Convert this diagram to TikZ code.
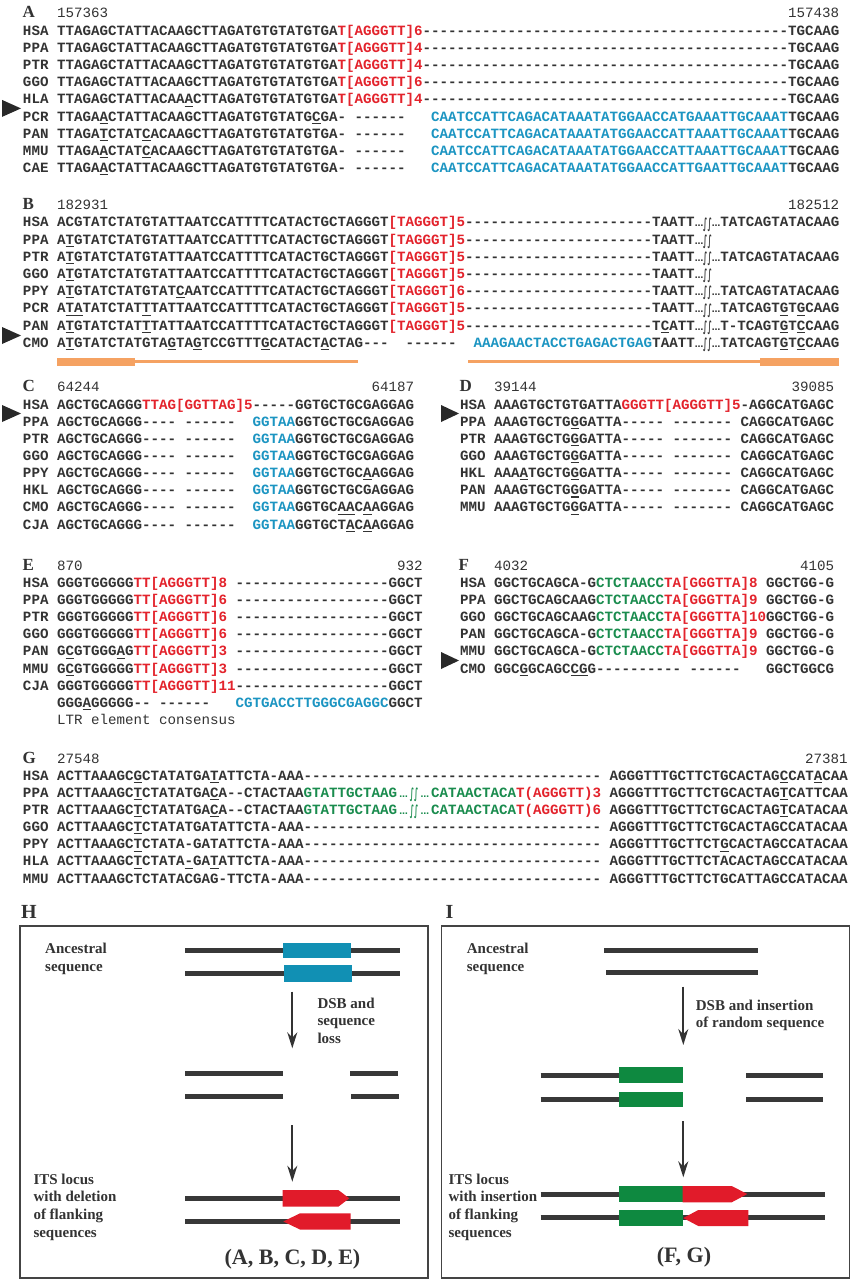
\documentclass[tikz,border=0pt]{standalone}
\usepackage{fontspec}
\usepackage{graphicx}
\usetikzlibrary{arrows.meta}
\setmainfont{Liberation Serif}
\newfontfamily\seqf{Liberation Mono}
\newfontfamily\brkf{DejaVu Sans}
\frenchspacing
\definecolor{ink}{HTML}{333333}
\definecolor{strandc}{HTML}{383838}
\definecolor{framec}{HTML}{444444}
\definecolor{sred}{HTML}{E3232C}
\definecolor{sblue}{HTML}{1C95C2}
\definecolor{sgreen}{HTML}{1A8C4E}
\definecolor{orng}{HTML}{F5A262}
\definecolor{boxblue}{HTML}{1190B4}
\definecolor{boxgreen}{HTML}{0E8940}
\definecolor{boxred}{HTML}{E11B2A}
\newlength\cw \setlength\cw{8.5014pt}
\newcommand\Rd[1]{\textcolor{sred}{#1}}
\newcommand\Bu[1]{\textcolor{sblue}{#1}}
\newcommand\Gn[1]{\textcolor{sgreen}{#1}}
\newcommand\Un[1]{\setbox0\hbox{#1}\rlap{\rule[-2.8pt]{\wd0}{1.1pt}}\box0}
\newcommand\El[1][1]{\makebox[#1\cw][c]{\brkf\fontsize{8.5}{8.5}\selectfont …}}
\newcommand\Ig{\makebox[\cw][c]{\raisebox{-1.2pt}{\brkf\fontsize{14}{14}\selectfont\scalebox{0.5}[1]{∫∫}}}}
\ExplSyntaxOn
\NewDocumentCommand\Dr{m}{\prg_replicate:nn{#1}{-\kern0pt}}
\ExplSyntaxOff
\newcommand\SeqRow[4]{\node[seq] (#1) at (#2,#3) {#4};}
\tikzset{
 seq/.style={anchor=base west, inner sep=0pt, outer sep=0pt, text=ink, font=\seqf\bfseries\fontsize{14.17}{16}\selectfont},
 num/.style={inner sep=0pt, outer sep=0pt, text=ink, font=\seqf\fontsize{14.17}{16}\selectfont},
 plet/.style={anchor=base west, inner sep=0pt, text=ink, font=\bfseries\fontsize{17}{17}\selectfont},
 blet/.style={anchor=base west, inner sep=0pt, text=ink, font=\bfseries\fontsize{20}{20}\selectfont},
 lab/.style={anchor=base west, inner sep=0pt, text=ink, font=\bfseries\fontsize{15}{18}\selectfont},
 bigcap/.style={anchor=base, inner sep=0pt, text=ink, font=\bfseries\fontsize{22}{24}\selectfont},
 strand/.style={line width=5pt, draw=strandc},
 flowarrow/.style={line width=1.7pt, draw=ink, -{Stealth[length=16pt,width=10pt]}},
 boxframe/.style={draw=framec, line width=1.4pt},
 tri/.style={fill=ink!80!black}
}
\begin{document}
\begin{tikzpicture}[x=1pt,y=-1pt]
\useasboundingbox (0,0) rectangle (852,1280);
\fill[white] (0,0) rectangle (852,1280);
% ---------- A ----------
\node[plet] (A) at (22.5,17.3) {A};
\node[num,anchor=base west] (aL) at ({23+4*8.5014},17.3) {157363};
\node[num,anchor=base east] (aR) at ({23+96*8.5014},17.3) {157438};
\SeqRow{a1}{23}{35}{HSA~TTAGAGCTATTACAAGCTTAGATGTGTATGTGA\Rd{T[AGGGTT]6}\Dr{43}TGCAAG}
\SeqRow{a2}{23}{52.2}{PPA~TTAGAGCTATTACAAGCTTAGATGTGTATGTGA\Rd{T[AGGGTT]4}\Dr{43}TGCAAG}
\SeqRow{a3}{23}{69.4}{PTR~TTAGAGCTATTACAAGCTTAGATGTGTATGTGA\Rd{T[AGGGTT]4}\Dr{43}TGCAAG}
\SeqRow{a4}{23}{86.6}{GGO~TTAGAGCTATTACAAGCTTAGATGTGTATGTGA\Rd{T[AGGGTT]6}\Dr{43}TGCAAG}
\SeqRow{a5}{23}{103.8}{HLA~TTAGAGCTATTACAA\Un{A}CTTAGATGTGTATGTGA\Rd{T[AGGGTT]4}\Dr{43}TGCAAG}
\SeqRow{a6}{23}{121}{PCR~TTAGA\Un{A}CTATTACAAGCTTAGATGTGTATG\Un{C}GA-~\Dr{6}~~~\Bu{CAATCCATTCAGACATAAATATGGAACCATGAAATTGCAAAT}TGCAAG}
\SeqRow{a7}{23}{138.2}{PAN~TTAGA\Un{T}CTAT\Un{C}ACAAGCTTAGATGTGTATGTGA-~\Dr{6}~~~\Bu{CAATCCATTCAGACATAAATATGGAACCATTAAATTGCAAAT}TGCAAG}
\SeqRow{a8}{23}{155.4}{MMU~TTAGA\Un{A}CTAT\Un{C}ACAAGCTTAGATGTGTATGTGA-~\Dr{6}~~~\Bu{CAATCCATTCAGACATAAATATGGAACCATTAAATTGCAAAT}TGCAAG}
\SeqRow{a9}{23}{172.6}{CAE~TTAGA\Un{A}CTATTACAAGCTTAGATGTGTATGTGA-~\Dr{6}~~~\Bu{CAATCCATTCAGACATAAATATGGAACCATTGAATTGCAAAT}TGCAAG}
\fill[tri] (2,99.9) -- (21,108.4) -- (2,116.9) -- cycle;
% ---------- B ----------
\node[plet] (B) at (22.5,209) {B};
\node[num,anchor=base west] (bL) at ({23+4*8.5014},209) {182931};
\node[num,anchor=base east] (bR) at ({23+96*8.5014},209) {182512};
\SeqRow{b1}{23}{226.8}{HSA~ACGTATCTATGTATTAATCCATTTTCATACTGCTAGGGT\Rd{[TAGGGT]5}\Dr{22}TAATT\El\Ig\El TATCAGTATACAAG}
\SeqRow{b2}{23}{244}{PPA~A\Un{T}GTATCTATGTATTAATCCATTTTCATACTGCTAGGGT\Rd{[TAGGGT]5}\Dr{22}TAATT\El\Ig}
\SeqRow{b3}{23}{261.2}{PTR~A\Un{T}GTATCTATGTATTAATCCATTTTCATACTGCTAGGGT\Rd{[TAGGGT]5}\Dr{22}TAATT\El\Ig\El TATCAGTATACAAG}
\SeqRow{b4}{23}{278.4}{GGO~A\Un{T}GTATCTATGTATTAATCCATTTTCATACTGCTAGGGT\Rd{[TAGGGT]5}\Dr{22}TAATT\El\Ig}
\SeqRow{b5}{23}{295.6}{PPY~A\Un{T}GTATCTATGTAT\Un{C}AATCCATTTTCATACTGCTAGGGT\Rd{[TAGGGT]6}\Dr{22}TAATT\El\Ig\El TATCAGTATACAAG}
\SeqRow{b6}{23}{312.8}{PCR~A\Un{TA}TATCTAT\Un{T}TATTAATCCATTTTCATACTGCTAGGGT\Rd{[TAGGGT]5}\Dr{22}TAATT\El\Ig\El TATCAGT\Un{G}T\Un{G}CAAG}
\SeqRow{b7}{23}{330}{PAN~A\Un{T}GTATCTAT\Un{T}TATTAATCCATTTTCATACTGCTAGGGT\Rd{[TAGGGT]5}\Dr{22}T\Un{C}ATT\El\Ig\El T-TCAGT\Un{G}T\Un{C}CAAG}
\SeqRow{b8}{23}{347.2}{CMO~A\Un{T}GTATCTATGTA\Un{G}TA\Un{G}TCCGTTT\Un{G}CATACT\Un{A}CTAG\Dr{3}~~\Dr{6}~~\Bu{AAAGAACTACCTGAGACTGAG}TAATT\El\Ig\El TATCAGT\Un{G}T\Un{C}CAAG}
\fill[tri] (2,327) -- (21,335.5) -- (2,344) -- cycle;
\fill[orng] (57,357.7) rectangle (135,365.7);
\fill[orng] (135,360.2) rectangle (358,363.2);
\fill[orng] (468,360.2) rectangle (760,363.2);
\fill[orng] (760,357.7) rectangle (839,365.7);
% ---------- C ----------
\node[plet] (C) at (22.5,391.7) {C};
\node[num,anchor=base west] (cL) at ({23+4*8.5014},391.7) {64244};
\node[num,anchor=base east] (cR) at ({23+46*8.5014},391.7) {64187};
\SeqRow{c1}{23}{409}{HSA~AGCTGCAGGG\Rd{TTAG[GGTTAG]5}\Dr{5}GGTGCTGCGAGGAG}
\SeqRow{c2}{23}{426.15}{PPA~AGCTGCAGGG\Dr{4}~\Dr{6}~~\Bu{GGTAA}GGTGCTGCGAGGAG}
\SeqRow{c3}{23}{443.3}{PTR~AGCTGCAGGG\Dr{4}~\Dr{6}~~\Bu{GGTAA}GGTGCTGCGAGGAG}
\SeqRow{c4}{23}{460.45}{GGO~AGCTGCAGGG\Dr{4}~\Dr{6}~~\Bu{GGTAA}GGTGCTGCGAGGAG}
\SeqRow{c5}{23}{477.6}{PPY~AGCTGCAGGG\Dr{4}~\Dr{6}~~\Bu{GGTAA}GGTGCTGC\Un{A}AGGAG}
\SeqRow{c6}{23}{494.75}{HKL~AGCTGCAGGG\Dr{4}~\Dr{6}~~\Bu{GGTAA}GGTGCTGCGAGGAG}
\SeqRow{c7}{23}{511.9}{CMO~AGCTGCAGGG\Dr{4}~\Dr{6}~~\Bu{GGTAA}GGTGC\Un{AA}C\Un{A}AGGAG}
\SeqRow{c8}{23}{529.05}{CJA~AGCTGCAGGG\Dr{4}~\Dr{6}~~\Bu{GGTAA}GGTGCT\Un{A}C\Un{A}AGGAG}
\fill[tri] (2,405) -- (21,413.5) -- (2,422) -- cycle;
% ---------- D ----------
\node[plet] (D) at (459.5,391.7) {D};
\node[num,anchor=base west] (dL) at ({460+4*8.5014},391.7) {39144};
\node[num,anchor=base east] (dR) at ({460+44*8.5014},391.7) {39085};
\SeqRow{d1}{460}{409}{HSA~AAAGTGCTGTGATTA\Rd{GGGTT[AGGGTT]5}-AGGCATGAGC}
\SeqRow{d2}{460}{426.15}{PPA~AAAGTGCTG\Un{G}GATTA\Dr{5}~\Dr{7}~CAGGCATGAGC}
\SeqRow{d3}{460}{443.3}{PTR~AAAGTGCTG\Un{G}GATTA\Dr{5}~\Dr{7}~CAGGCATGAGC}
\SeqRow{d4}{460}{460.45}{GGO~AAAGTGCTG\Un{G}GATTA\Dr{5}~\Dr{7}~CAGGCATGAGC}
\SeqRow{d5}{460}{477.6}{HKL~AAA\Un{A}TGCTG\Un{G}GATTA\Dr{5}~\Dr{7}~CAGGCATGAGC}
\SeqRow{d6}{460}{494.75}{PAN~AAAGTGCTG\Un{G}GATTA\Dr{5}~\Dr{7}~CAGGCATGAGC}
\SeqRow{d7}{460}{511.9}{MMU~AAAGTGCTG\Un{G}GATTA\Dr{5}~\Dr{7}~CAGGCATGAGC}
\fill[tri] (441,405) -- (459,413.5) -- (441,422) -- cycle;
% ---------- E ----------
\node[plet] (E) at (22.5,570) {E};
\node[num,anchor=base west] (eL) at ({23+4*8.5014},570) {870};
\node[num,anchor=base east] (eR) at ({23+47*8.5014},570) {932};
\SeqRow{e1}{23}{587.3}{HSA~GGGTGGGGG\Rd{TT[AGGGTT]8}~\Dr{18}GGCT}
\SeqRow{e2}{23}{604.45}{PPA~GGGTGGGGG\Rd{TT[AGGGTT]6}~\Dr{18}GGCT}
\SeqRow{e3}{23}{621.6}{PTR~GGGTGGGGG\Rd{TT[AGGGTT]6}~\Dr{18}GGCT}
\SeqRow{e4}{23}{638.75}{GGO~GGGTGGGGG\Rd{TT[AGGGTT]6}~\Dr{18}GGCT}
\SeqRow{e5}{23}{655.9}{PAN~G\Un{C}GTGGG\Un{A}G\Rd{TT[AGGGTT]3}~\Dr{18}GGCT}
\SeqRow{e6}{23}{673.05}{MMU~G\Un{C}GTGGGGG\Rd{TT[AGGGTT]3}~\Dr{18}GGCT}
\SeqRow{e7}{23}{690.2}{CJA~GGGTGGGGG\Rd{TT[AGGGTT]11}\Dr{18}GGCT}
\SeqRow{e8}{23}{707.35}{~~~~GGG\Un{A}GGGGG\Dr{2}~\Dr{6}~~~\Bu{CGTGACCTTGGGCGAGGC}GGCT}
\node[num,anchor=base west] (e9) at ({23+4*8.5014},724.5) {LTR~element~consensus};
% ---------- F ----------
\node[plet] (F) at (458.5,570) {F};
\node[num,anchor=base west] (fL) at ({460+4*8.5014},570) {4032};
\node[num,anchor=base east] (fR) at ({460+44*8.5014},570) {4105};
\SeqRow{f1}{460}{587.3}{HSA~GGCTGCAGCA-G\Gn{CTCTAACC}\Rd{TA[GGGTTA]8}~GGCTGG-G}
\SeqRow{f2}{460}{604.45}{PPA~GGCTGCAGCAAG\Gn{CTCTAACC}\Rd{TA[GGGTTA]9}~GGCTGG-G}
\SeqRow{f3}{460}{621.6}{GGO~GGCTGCAGCAAG\Gn{CTCTAACC}\Rd{TA[GGGTTA]10}GGCTGG-G}
\SeqRow{f4}{460}{638.75}{PAN~GGCTGCAGCA-G\Gn{CTCTAACC}\Rd{TA[GGGTTA]9}~GGCTGG-G}
\SeqRow{f5}{460}{655.9}{MMU~GGCTGCAGCA-G\Gn{CTCTAACC}\Rd{TA[GGGTTA]9}~GGCTGG-G}
\SeqRow{f6}{460}{673.05}{CMO~GGC\Un{G}GCAGC\Un{CG}G\Dr{10}~\Dr{6}~~~GGCTGGCG}
\fill[tri] (441,652) -- (459,660.5) -- (441,669) -- cycle;
% ---------- G ----------
\node[plet] (G) at (22.5,763) {G};
\node[num,anchor=base west] (gL) at ({23+4*8.5014},763) {27548};
\node[num,anchor=base east] (gR) at ({23+97*8.5014},763) {27381};
\SeqRow{g1}{23}{780.2}{HSA~ACTTAAAGC\Un{G}CTATATGA\Un{T}ATTCTA-AAA\Dr{35}~AGGGTTTGCTTCTGCACTAG\Un{C}CAT\Un{A}CAA}
\SeqRow{g2}{23}{797.35}{PPA~ACTTAAAGC\Un{T}CTATATGA\Un{C}A\Dr{2}CTACTAA\Gn{GTATTGCTAAG\El[1.5]\Ig\El[1.5]CATAACTACA}\Rd{T(AGGGTT)3}~AGGGTTTGCTTCTGCACTAG\Un{T}CATTCAA}
\SeqRow{g3}{23}{814.5}{PTR~ACTTAAAGC\Un{T}CTATATGA\Un{C}A\Dr{2}CTACTAA\Gn{GTATTGCTAAG\El[1.5]\Ig\El[1.5]CATAACTACA}\Rd{T(AGGGTT)6}~AGGGTTTGCTTCTGCACTAG\Un{T}CATACAA}
\SeqRow{g4}{23}{831.65}{GGO~ACTTAAAGC\Un{T}CTATATGATATTCTA-AAA\Dr{35}~AGGGTTTGCTTCTGCACTAGCCATACAA}
\SeqRow{g5}{23}{848.8}{PPY~ACTTAAAGC\Un{T}CTATA-GATATTCTA-AAA\Dr{35}~AGGGTTTGCTTCT\Un{G}CACTAGCCATACAA}
\SeqRow{g6}{23}{865.95}{HLA~ACTTAAAGC\Un{T}CTATA\Un{-}GA\Un{T}ATTCTA-AAA\Dr{35}~AGGGTTTGCTTCTACACTAGCCATACAA}
\SeqRow{g7}{23}{883.1}{MMU~ACTTAAAGCTCTATACGAG-TTCTA-AAA\Dr{35}~AGGGTTTGCTTCTGCATTAGCCATACAA}
% ---------- H ----------
\node[blet] (H) at (21,918.5) {H};
\draw[boxframe] (20,926) rectangle (428,1278);
\node[lab] (h1) at (45,953) {Ancestral};
\node[lab] (h2) at (45,971) {sequence};
\draw[strand] (185,950) -- (400,950);
\draw[strand] (185,973.3) -- (400,973.3);
\fill[boxblue] (283,942.7) rectangle (351,958.3);
\fill[boxblue] (284,965) rectangle (352,981.5);
\coordinate (hA1) at (292.3,991.7);
\coordinate (hA2) at (292.3,1048.3);
\draw[flowarrow] (hA1) -- (hA2);
\node[lab] (h3) at (317.3,1008) {DSB and};
\node[lab] (h4) at (317.3,1025.6) {sequence};
\node[lab] (h5) at (317.3,1043.2) {loss};
\draw[strand] (185,1073.3) -- (283.3,1073.3);
\draw[strand] (350,1073.3) -- (398.3,1073.3);
\draw[strand] (185,1096.7) -- (283.3,1096.7);
\draw[strand] (351,1096.7) -- (399.3,1096.7);
\coordinate (hB1) at (292.3,1125);
\coordinate (hB2) at (292.3,1181.7);
\draw[flowarrow] (hB1) -- (hB2);
\draw[strand] (185,1198.3) -- (400,1198.3);
\draw[strand] (185,1221.7) -- (400,1221.7);
\fill[boxred] (282.7,1190) -- (338.3,1190) -- (349.3,1198.3) -- (338.3,1206.7) -- (282.7,1206.7) -- cycle;
\fill[boxred] (350.7,1213.3) -- (300,1213.3) -- (283.3,1221.5) -- (300,1229.5) -- (350.7,1229.5) -- cycle;
\node[lab] (h6) at (33.3,1184) {ITS locus};
\node[lab] (h7) at (33.3,1201.7) {with deletion};
\node[lab] (h8) at (33.3,1219.4) {of flanking};
\node[lab] (h9) at (33.3,1237.1) {sequences};
\node[bigcap] (h10) at (292.5,1264) {(A, B, C, D, E)};
% ---------- I ----------
\node[blet] (I) at (445.5,918.5) {I};
\draw[boxframe] (441.7,926) rectangle (849.3,1278);
\node[lab] (i1) at (466.7,953) {Ancestral};
\node[lab] (i2) at (466.7,971) {sequence};
\draw[strand] (604,950) -- (757.7,950);
\draw[strand] (606,972.7) -- (757.7,972.7);
\coordinate (iA1) at (683.3,986.7);
\coordinate (iA2) at (683.3,1045);
\draw[flowarrow] (iA1) -- (iA2);
\node[lab] (i3) at (695.7,1010) {DSB and insertion};
\node[lab] (i4) at (695.7,1027.7) {of random sequence};
\draw[strand] (540.7,1075) -- (682.7,1075);
\draw[strand] (746,1075) -- (823.3,1075);
\draw[strand] (540.7,1099.3) -- (682.7,1099.3);
\draw[strand] (746,1099.3) -- (823.3,1099.3);
\fill[boxgreen] (619.3,1066.7) rectangle (682.7,1083.3);
\fill[boxgreen] (619.3,1091.7) rectangle (682.7,1107.3);
\coordinate (iB1) at (683.3,1121);
\coordinate (iB2) at (683.3,1177.3);
\draw[flowarrow] (iB1) -- (iB2);
\draw[strand] (540.7,1194) -- (825,1194);
\draw[strand] (540.7,1217.7) -- (825,1217.7);
\fill[boxgreen] (619.3,1186) rectangle (682.7,1202.3);
\fill[boxred] (682.7,1186) -- (731.7,1186) -- (747.3,1194) -- (731.7,1202.3) -- (682.7,1202.3) -- cycle;
\fill[boxgreen] (619.3,1210) rectangle (683.3,1226);
\fill[boxred] (683.3,1218) -- (698.3,1210) -- (748.3,1210) -- (748.3,1226) -- (698.3,1226) -- cycle;
\node[lab] (i6) at (448.3,1184) {ITS locus};
\node[lab] (i7) at (448.3,1201.7) {with insertion};
\node[lab] (i8) at (448.3,1219.4) {of flanking};
\node[lab] (i9) at (448.3,1237.1) {sequences};
\node[bigcap] (i10) at (684,1262) {(F, G)};
\end{tikzpicture}
\end{document}
